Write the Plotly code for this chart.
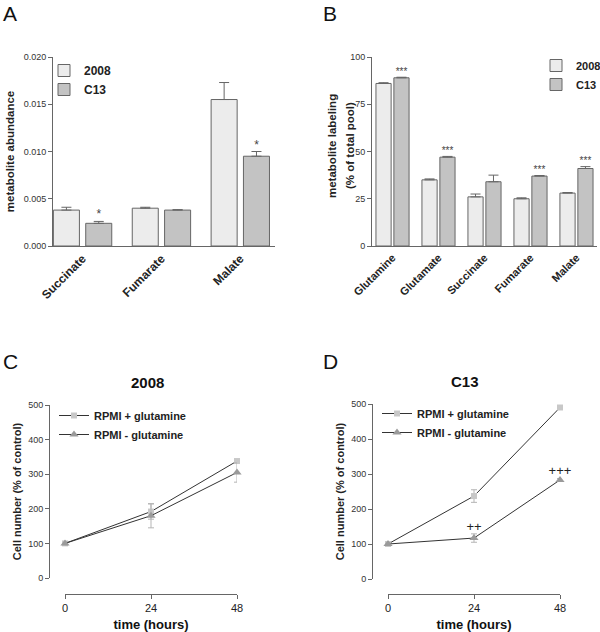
import plotly.graph_objects as go

W, H = 600, 632

# panel A - metabolite abundance
cats_a = ["Succinate", "Fumarate", "Malate"]
abund_2008 = [0.0038, 0.0040, 0.0155]
abund_2008_err = [0.0003, 0.0001, 0.0018]
abund_c13 = [0.0024, 0.0038, 0.0095]
abund_c13_err = [0.0002, 0.00005, 0.0005]
sig_a = ["*", "", "*"]

# panel B - metabolite labeling
cats_b = ["Glutamine", "Glutamate", "Succinate", "Fumarate", "Malate"]
label_2008 = [86, 35, 26, 25, 28]
label_2008_err = [0.4, 0.5, 1.5, 0.5, 0.3]
label_c13 = [89, 47, 34, 37, 41]
label_c13_err = [0.3, 0.4, 3.5, 0.3, 1.0]
sig_b = ["***", "***", "", "***", "***"]

# panels C / D - growth curves
hours = [0, 24, 48]
c_plus = [100, 192, 338]
c_plus_err = [4, 22, 5]
c_minus = [100, 180, 305]
c_minus_err = [4, 35, 28]
d_plus = [100, 237, 490]
d_plus_err = [4, 18, 4]
d_minus = [100, 117, 283]
d_minus_err = [4, 12, 4]
sig_d = ["", "++", "+++"]

FONT = "Liberation Sans, Arial, sans-serif"
EDGE = "#666666"
LIGHT = "#ececec"
DARK = "#c3c3c3"


def px(x):
    return x / W


def py(y):
    return 1 - y / H


fig = go.Figure()


def bar_pair(cats, v1, e1, v2, e2, sig, xa, ya, width, off1, off2, leg, star_size):
    idx = list(range(len(cats)))
    for vals, errs, fill, name, off in [(v1, e1, LIGHT, "2008", off1), (v2, e2, DARK, "C13", off2)]:
        fig.add_trace(go.Bar(
            x=idx, y=vals, name=name, width=width, offset=off,
            marker=dict(color=fill, line=dict(color=EDGE, width=1)),
            error_y=dict(type="data", array=errs, arrayminus=[0] * len(errs), symmetric=False,
                         color=EDGE, thickness=1, width=5),
            xaxis=xa, yaxis=ya, legend=leg, showlegend=True,
        ))
    fig.add_trace(go.Scatter(
        x=[i + off2 + width / 2 for i in idx], y=[v + e for v, e in zip(v2, e2)],
        mode="text", text=sig, textposition="top center",
        textfont=dict(size=star_size, color="#444", family=FONT),
        xaxis=xa, yaxis=ya, showlegend=False, cliponaxis=False, hoverinfo="skip",
    ))


bar_pair(cats_a, abund_2008, abund_2008_err, abund_c13, abund_c13_err, sig_a,
         "x", "y", 0.33, -0.37, 0.04, "legend", 12)
bar_pair(cats_b, label_2008, label_2008_err, label_c13, label_c13_err, sig_b,
         "x2", "y2", 0.33, -0.36, 0.03, "legend2", 10)


def growth(plus, pe, minus, me, xa, ya, leg, sig=None):
    for vals, errs, name, sym, col, size in [
        (plus, pe, "RPMI + glutamine", "square", "#c8c8c8", 6),
        (minus, me, "RPMI - glutamine", "triangle-up", "#9a9a9a", 8),
    ]:
        fig.add_trace(go.Scatter(
            x=hours, y=vals, name=name, mode="lines+markers",
            line=dict(color="#333333", width=1),
            marker=dict(symbol=sym, color=col, size=size),
            error_y=dict(type="data", array=errs, color="#b5b5b5", thickness=1, width=3),
            xaxis=xa, yaxis=ya, legend=leg, cliponaxis=False,
        ))
    if sig:
        fig.add_trace(go.Scatter(
            x=hours, y=[v + e for v, e in zip(minus, me)], mode="text", text=sig,
            textposition="top center", textfont=dict(size=13, color="#222", family=FONT),
            xaxis=xa, yaxis=ya, showlegend=False, cliponaxis=False, hoverinfo="skip",
        ))


growth(c_plus, c_plus_err, c_minus, c_minus_err, "x3", "y3", "legend3")
growth(d_plus, d_plus_err, d_minus, d_minus_err, "x4", "y4", "legend4", sig_d)

tickf = dict(size=9, color="#333", family=FONT)
axline = dict(showline=True, linecolor=EDGE, linewidth=1, showgrid=False, zeroline=False,
              ticks="outside", ticklen=4, tickcolor=EDGE)

bar_x = dict(showline=True, linecolor=EDGE, linewidth=1, showgrid=False, zeroline=False,
             ticks="", tickmode="array", tickangle=-45,
             tickfont=dict(size=12, color="#222", family=FONT, weight="bold"))

fig.update_layout(
    width=W, height=H, margin=dict(l=0, r=0, t=0, b=0, autoexpand=False),
    paper_bgcolor="white", plot_bgcolor="white", font=dict(family=FONT),
    xaxis=dict(bar_x, domain=[px(53), px(275)], range=[-0.375, 2.44],
               tickvals=list(range(3)), ticktext=cats_a, anchor="y"),
    yaxis=dict(axline, domain=[py(246), py(57)], range=[0, 0.020], dtick=0.005,
               tickformat=".3f", tickfont=tickf, anchor="x",
               title=dict(text="metabolite abundance", standoff=6,
                          font=dict(size=11.5, color="#222", weight="bold"))),
    xaxis2=dict(bar_x, domain=[px(372), px(597)], range=[-0.446, 4.446],
                tickvals=list(range(5)), ticktext=cats_b, anchor="y2",
                tickfont=dict(size=11, color="#222", family=FONT, weight="bold")),
    yaxis2=dict(axline, domain=[py(246), py(57)], range=[0, 100], dtick=25,
                tickfont=tickf, anchor="x2"),
    xaxis3=dict(axline, domain=[px(65), px(237)], range=[0, 48], tickvals=hours,
                anchor="free", position=py(594),
                tickfont=dict(size=11, color="#222", family=FONT),
                title=dict(text="time (hours)", standoff=6,
                           font=dict(size=13, color="#111", weight="bold"))),
    yaxis3=dict(axline, domain=[py(578), py(405)], range=[0, 500], dtick=100,
                tickfont=tickf, anchor="free", position=px(49),
                title=dict(text="Cell number (% of control)", standoff=3,
                           font=dict(size=11, color="#222", weight="bold"))),
    xaxis4=dict(axline, domain=[px(388), px(560)], range=[0, 48], tickvals=hours,
                anchor="free", position=py(594),
                tickfont=dict(size=11, color="#222", family=FONT),
                title=dict(text="time (hours)", standoff=6,
                           font=dict(size=13, color="#111", weight="bold"))),
    yaxis4=dict(axline, domain=[py(579), py(404)], range=[0, 500], dtick=100,
                tickfont=tickf, anchor="free", position=px(372),
                title=dict(text="Cell number (% of control)", standoff=3,
                           font=dict(size=11, color="#222", weight="bold"))),
    showlegend=True,
)

# two-line y title of panel B, set as separate lines for the wider line spacing
for txt, x in [("metabolite labeling", 332), ("(% of total pool)", 350)]:
    fig.add_annotation(text=txt, x=px(x), y=py(146), xref="paper", yref="paper",
                       textangle=-90, showarrow=False, xanchor="center", yanchor="middle",
                       font=dict(size=11.5, color="#222", family=FONT, weight="bold"))

leg_common = dict(bgcolor="rgba(0,0,0,0)", borderwidth=0, xanchor="left", yanchor="top",
                  tracegroupgap=0)
fig.update_layout(
    legend=dict(leg_common, x=px(44), y=py(56),
                font=dict(size=12, color="#222", family=FONT, weight="bold")),
    legend2=dict(leg_common, x=px(536), y=py(51),
                 font=dict(size=11, color="#222", family=FONT, weight="bold")),
    legend3=dict(leg_common, x=px(54), y=py(401),
                 font=dict(size=11, color="#222", family=FONT, weight="bold")),
    legend4=dict(leg_common, x=px(377), y=py(399),
                 font=dict(size=11, color="#222", family=FONT, weight="bold")),
)

# panel letters and titles
for txt, x, y in [("A", 1, 0), ("B", 321, 0), ("C", 1, 348), ("D", 321, 348)]:
    fig.add_annotation(text=txt, x=px(x), y=py(y), xref="paper", yref="paper",
                       xanchor="left", yanchor="top", showarrow=False,
                       font=dict(size=21, color="#111", family=FONT))
for txt, x, y in [("2008", 147, 382), ("C13", 465, 381)]:
    fig.add_annotation(text=txt, x=px(x), y=py(y), xref="paper", yref="paper",
                       xanchor="center", yanchor="middle", showarrow=False,
                       font=dict(size=15, color="#111", family=FONT, weight="bold"))

fig.write_html("out.html", config={"displayModeBar": False},
               post_script="document.body.style.margin = '0';")
